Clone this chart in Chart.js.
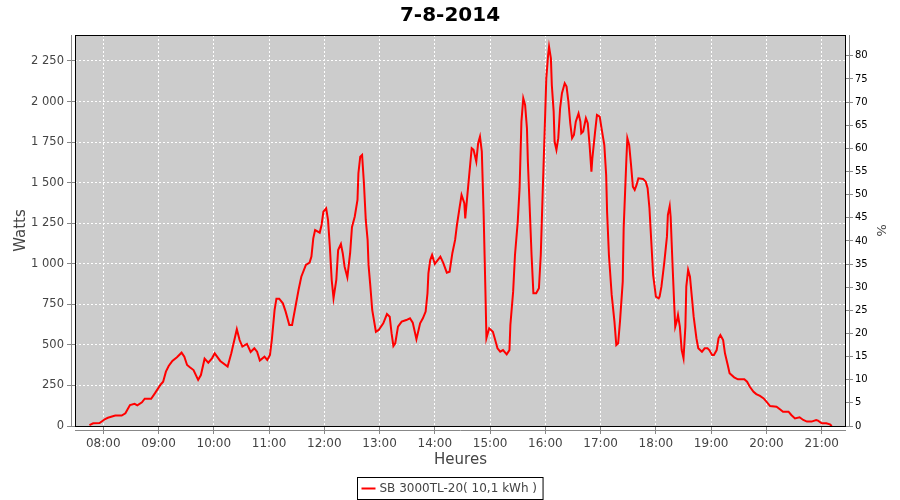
<!DOCTYPE html>
<html>
<head>
<meta charset="utf-8">
<title>7-8-2014</title>
<script src="https://cdn.jsdelivr.net/npm/chart.js@4.4.1/dist/chart.umd.min.js"></script>
<style>
    html, body { margin: 0; padding: 0; background: #fff; }
    #wrap { width: 900px; height: 500px; }
</style>
</head>
<body>
<div id="wrap"><canvas id="powerChart" width="900" height="500"></canvas></div>
<script>
// readings of the day (time of day, watts)
const times = [
    "07:45", "07:49", "07:56", "08:02", "08:05", "08:13", "08:20", "08:24", "08:29", "08:34",
    "08:37", "08:42", "08:45", "08:52", "08:56", "09:02", "09:05", "09:08", "09:11", "09:15",
    "09:20", "09:25", "09:28", "09:31", "09:34", "09:38", "09:43", "09:46", "09:50", "09:54",
    "09:58", "10:01", "10:07", "10:15", "10:19", "10:25", "10:28", "10:31", "10:36", "10:40",
    "10:44", "10:47", "10:50", "10:55", "10:58", "11:01", "11:03", "11:06", "11:08", "11:11",
    "11:15", "11:18", "11:22", "11:25", "11:28", "11:32", "11:35", "11:40", "11:44", "11:46",
    "11:48", "11:50", "11:55", "11:57", "11:59", "12:02", "12:04", "12:06", "12:08", "12:10",
    "12:13", "12:15", "12:18", "12:20", "12:22", "12:25", "12:28", "12:30", "12:33", "12:36",
    "12:37", "12:39", "12:41", "12:43", "12:45", "12:47", "12:48", "12:50", "12:52", "12:56",
    "12:59", "13:04", "13:08", "13:11", "13:13", "13:15", "13:17", "13:20", "13:24", "13:29",
    "13:33", "13:36", "13:40", "13:44", "13:47", "13:50", "13:52", "13:53", "13:55", "13:57",
    "14:00", "14:06", "14:09", "14:13", "14:16", "14:19", "14:22", "14:24", "14:27", "14:29",
    "14:32", "14:33", "14:36", "14:40", "14:42", "14:45", "14:47", "14:49", "14:51", "14:53",
    "14:54", "14:55", "14:56", "14:59", "15:03", "15:05", "15:08", "15:11", "15:14", "15:18",
    "15:21", "15:22", "15:25", "15:27", "15:30", "15:32", "15:34", "15:36", "15:38", "15:40",
    "15:41", "15:43", "15:45", "15:47", "15:50", "15:53", "15:55", "15:57", "16:00", "16:01",
    "16:03", "16:04", "16:06", "16:07", "16:09", "16:10", "16:12", "16:14", "16:16", "16:18",
    "16:21", "16:23", "16:25", "16:27", "16:29", "16:31", "16:33", "16:36", "16:38", "16:39",
    "16:41", "16:44", "16:46", "16:48", "16:50", "16:51", "16:54", "16:56", "16:59", "17:01",
    "17:04", "17:06", "17:07", "17:09", "17:12", "17:15", "17:17", "17:19", "17:21", "17:24",
    "17:25", "17:28", "17:29", "17:31", "17:33", "17:35", "17:37", "17:39", "17:41", "17:46",
    "17:49", "17:51", "17:53", "17:55", "17:57", "18:00", "18:03", "18:04", "18:06", "18:09",
    "18:12", "18:13", "18:15", "18:16", "18:18", "18:20", "18:21", "18:23", "18:24", "18:26",
    "18:28", "18:30", "18:32", "18:33", "18:35", "18:37", "18:39", "18:41", "18:44", "18:46",
    "18:50", "18:53", "18:56", "18:58", "19:01", "19:03", "19:06", "19:08", "19:10", "19:13",
    "19:15", "19:18", "19:20", "19:25", "19:29", "19:36", "19:39", "19:42", "19:46", "19:49",
    "19:53", "19:57", "20:00", "20:04", "20:11", "20:15", "20:18", "20:24", "20:27", "20:31",
    "20:36", "20:40", "20:44", "20:49", "20:54", "20:56", "21:00", "21:05", "21:09", "21:11"
];
const watts = [
    6, 17, 18, 43, 51, 64, 64, 78, 129, 137,
    127, 146, 168, 168, 201, 253, 273, 335, 370, 401,
    424, 452, 427, 376, 362, 345, 284, 314, 415, 390,
    417, 448, 401, 366, 448, 596, 530, 489, 506, 456,
    479, 458, 403, 427, 407, 438, 530, 715, 785, 785,
    756, 705, 623, 623, 715, 838, 920, 993, 1007, 1044,
    1157, 1208, 1192, 1239, 1321, 1342, 1270, 1105, 900, 787,
    900, 1085, 1122, 1065, 982, 917, 1065, 1225, 1290, 1393,
    1558, 1660, 1671, 1496, 1270, 1147, 993, 859, 715, 581,
    592, 633, 690, 674, 572, 493, 510, 612, 643, 653,
    664, 637, 535, 633, 664, 705, 818, 941, 1023, 1054,
    999, 1044, 1007, 945, 951, 1065, 1147, 1239, 1352, 1424,
    1373, 1280, 1466, 1712, 1702, 1629, 1743, 1784, 1691, 1301,
    1054, 808, 541, 602, 581, 541, 479, 458, 468, 442,
    468, 623, 828, 1054, 1260, 1466, 1876, 2020, 1979, 1835,
    1629, 1342, 1054, 818, 818, 849, 1054, 1424, 1959, 2143,
    2287, 2338, 2266, 2102, 1938, 1753, 1702, 1774, 1959, 2051,
    2112, 2092, 2000, 1866, 1774, 1794, 1876, 1927, 1876, 1804,
    1815, 1897, 1866, 1732, 1568, 1650, 1815, 1917, 1907, 1835,
    1732, 1547, 1321, 1054, 808, 643, 499, 510, 643, 890,
    1218, 1650, 1774, 1732, 1609, 1475, 1455, 1486, 1527, 1523,
    1506, 1466, 1342, 1136, 931, 797, 787, 797, 859, 1003,
    1167, 1301, 1356, 1290, 1003, 735, 612, 653, 684, 612,
    468, 417, 612, 859, 962, 920, 797, 674, 541, 479,
    458, 479, 479, 468, 438, 438, 468, 541, 561, 530,
    448, 376, 325, 300, 288, 288, 273, 242, 211, 197,
    185, 170, 150, 123, 119, 102, 88, 88, 68, 47,
    54, 37, 27, 27, 37, 33, 17, 17, 10, 0
];
const hourLabels = ["08:00", "09:00", "10:00", "11:00", "12:00", "13:00", "14:00",
    "15:00", "16:00", "17:00", "18:00", "19:00", "20:00", "21:00"];
const seriesLabel = "SB 3000TL-20( 10,1 kWh )";

const FONT = "'DejaVu Sans', 'Liberation Sans', sans-serif";

function toMinutes(t) {
    const p = t.split(":");
    return Number(p[0]) * 60 + Number(p[1]);
}

function pad(n) {
    return (n < 10 ? "0" : "") + n;
}

// grey plot background, black frame, offset axis lines and the boxed legend
const framePlugin = {
    id: "frame",
    beforeDraw(chart) {
        const a = chart.chartArea;
        const ctx = chart.ctx;
        ctx.save();
        ctx.fillStyle = "#cccccc";
        ctx.fillRect(a.left, a.top, a.right - a.left, a.bottom - a.top);
        ctx.restore();
    },
    afterDraw(chart) {
        const a = chart.chartArea;
        const ctx = chart.ctx;
        ctx.save();
        ctx.strokeStyle = "#000";
        ctx.lineWidth = 1;
        ctx.strokeRect(a.left + 0.5, a.top + 0.5, a.right - a.left - 1, a.bottom - a.top);

        ctx.strokeStyle = "#888";
        ctx.beginPath();
        ctx.moveTo(a.left - 3.5, a.top);
        ctx.lineTo(a.left - 3.5, a.bottom + 1);
        ctx.moveTo(a.right + 3.5, a.top);
        ctx.lineTo(a.right + 3.5, a.bottom + 1);
        ctx.moveTo(a.left, a.bottom + 4.5);
        ctx.lineTo(a.right, a.bottom + 4.5);
        ctx.stroke();

        // legend
        const ds = chart.data.datasets[0];
        ctx.font = "12px " + FONT;
        const tw = ctx.measureText(ds.label).width;
        const w = tw + 28;
        const x0 = Math.round(450 - w / 2) + 0.5;
        const y0 = 477.5;
        ctx.fillStyle = "#fff";
        ctx.fillRect(x0, y0, w, 22);
        ctx.strokeStyle = "#000";
        ctx.strokeRect(x0, y0, w, 22);
        ctx.strokeStyle = ds.borderColor;
        ctx.lineWidth = 2;
        ctx.beginPath();
        ctx.moveTo(x0 + 4, y0 + 11);
        ctx.lineTo(x0 + 18, y0 + 11);
        ctx.stroke();
        ctx.fillStyle = "#444";
        ctx.textBaseline = "middle";
        ctx.fillText(ds.label, x0 + 22, y0 + 11.5);
        ctx.restore();
    }
};

document.addEventListener("DOMContentLoaded", function () {
    const ctx = document.getElementById("powerChart").getContext("2d");

    new Chart(ctx, {
        type: "line",
        data: {
            datasets: [{
                label: seriesLabel,
                data: times.map((t, i) => ({ x: toMinutes(t), y: watts[i] })),
                borderColor: "#ff0000",
                borderWidth: 2,
                pointRadius: 0,
                tension: 0,
                fill: false,
                yAxisID: "y"
            }]
        },
        options: {
            responsive: false,
            animation: false,
            layout: { padding: 0 },
            plugins: {
                legend: { display: false },
                tooltip: { enabled: false },
                title: {
                    display: true,
                    text: "7-8-2014",
                    color: "#000",
                    font: { family: FONT, size: 20, weight: "bold" },
                    padding: { top: 4, bottom: 7 }
                }
            },
            scales: {
                x: {
                    type: "linear",
                    min: 449.3,
                    max: 1286.4,
                    afterBuildTicks: function (scale) {
                        scale.ticks = hourLabels.map(h => ({ value: toMinutes(h) }));
                    },
                    afterFit: function (scale) { scale.height = 74; },
                    ticks: {
                        color: "#444",
                        font: { family: FONT, size: 12 },
                        padding: 3,
                        maxRotation: 0,
                        callback: function (v) {
                            return pad(Math.floor(v / 60)) + ":" + pad(v % 60);
                        }
                    },
                    grid: {
                        color: "#ffffff",
                        tickColor: "#888",
                        tickLength: 8,
                        tickBorderDash: []
                    },
                    border: { display: false, dash: [2, 2] },
                    title: {
                        display: true,
                        text: "Heures",
                        color: "#444",
                        font: { family: FONT, size: 15 },
                        padding: { top: 0, bottom: 31 }
                    }
                },
                y: {
                    position: "left",
                    min: 0,
                    max: 2410,
                    afterFit: function (scale) { scale.width = 75; },
                    ticks: {
                        stepSize: 250,
                        includeBounds: false,
                        color: "#444",
                        font: { family: FONT, size: 11.5 },
                        padding: 3,
                        callback: function (v) {
                            return String(v).replace(/\B(?=(\d{3})+(?!\d))/g, " ");
                        }
                    },
                    grid: {
                        color: "#ffffff",
                        tickColor: "#888",
                        tickLength: 8,
                        tickBorderDash: []
                    },
                    border: { display: false, dash: [2, 2] },
                    title: {
                        display: true,
                        text: "Watts",
                        color: "#444",
                        font: { family: FONT, size: 15 },
                        padding: { top: 12, bottom: 0 }
                    }
                },
                pct: {
                    position: "right",
                    display: true,
                    min: 0,
                    max: 84.5,
                    afterFit: function (scale) { scale.width = 54; },
                    ticks: {
                        stepSize: 5,
                        includeBounds: false,
                        color: "#000",
                        font: { family: FONT, size: 10 },
                        padding: 2
                    },
                    grid: {
                        drawOnChartArea: false,
                        tickColor: "#888",
                        tickLength: 7
                    },
                    border: { display: false },
                    title: {
                        display: true,
                        text: "%",
                        color: "#444",
                        font: { family: FONT, size: 13 },
                        padding: { top: 12, bottom: 0 }
                    }
                }
            }
        },
        plugins: [framePlugin]
    });
});
</script>
</body>
</html>
